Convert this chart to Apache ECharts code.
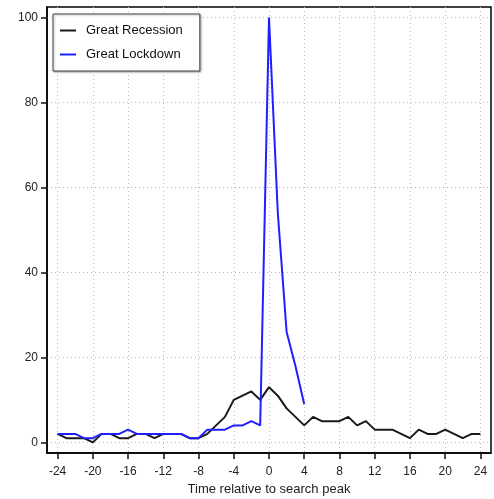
<!DOCTYPE html>
<html>
<head>
<meta charset="utf-8">
<script src="https://cdn.jsdelivr.net/npm/echarts@6/dist/echarts.min.js"></script>
<style>
  html, body { margin: 0; padding: 0; background: #fff; }
  #chart { width: 494px; height: 499px; }
</style>
</head>
<body>
<div id="chart"></div>
<script>
  // months relative to search peak
  var months = [];
  for (var m = -24; m <= 24; m++) months.push(m);

  var recession = [2, 1, 1, 1, 0, 2, 2, 1, 1, 2, 2, 1, 2, 2, 2, 1, 1, 2, 4, 6, 10, 11, 12, 10,
    13, 11, 8, 6, 4, 6, 5, 5, 5, 6, 4, 5, 3, 3, 3, 2, 1, 3, 2, 2, 3, 2, 1, 2, 2];
  var lockdown = [2, 2, 2, 1, 1, 2, 2, 2, 3, 2, 2, 2, 2, 2, 2, 1, 1, 3, 3, 3, 4, 4, 5, 4,
    100, 54, 26, 18, 9];

  var xTicks = [-24, -20, -16, -12, -8, -4, 0, 4, 8, 12, 16, 20, 24];
  var yTicks = [0, 20, 40, 60, 80, 100];

  function pairs(ys) {
    return ys.map(function (v, i) { return [months[i], v]; });
  }

  var chart = echarts.init(document.getElementById('chart'));
  var font = 'Liberation Sans, Arial, sans-serif';

  chart.setOption({
    animation: false,
    grid: {
      left: 47, right: 3, top: 7, bottom: 46,
      containLabel: false,
      outerBoundsMode: 'none',
      show: true, borderColor: '#000', borderWidth: 1.5,
      backgroundColor: '#fff'
    },
    legend: {
      left: 53, top: 14,
      orient: 'vertical',
      padding: [10, 17, 10, 7],
      itemGap: 11,
      itemWidth: 16,
      itemHeight: 2,
      icon: 'rect',
      borderColor: '#444',
      borderWidth: 1,
      backgroundColor: '#fff',
      shadowColor: 'rgba(0,0,0,0.3)',
      shadowBlur: 2,
      shadowOffsetX: 1,
      shadowOffsetY: 1,
      textStyle: { fontFamily: font, fontSize: 13, color: '#111', padding: [0, 0, 0, 5] },
      data: ['Great Recession', 'Great Lockdown']
    },
    xAxis: {
      type: 'value',
      min: -25.2, max: 25.2,
      name: 'Time relative to search peak',
      nameLocation: 'middle',
      nameGap: 29,
      nameTextStyle: { fontFamily: font, fontSize: 13, color: '#222' },
      axisLine: { show: true, onZero: false, lineStyle: { color: '#000', width: 1.5 } },
      axisTick: { show: true, length: 6, inside: false, lineStyle: { color: '#111', width: 1.5 }, customValues: xTicks },
      axisLabel: { fontFamily: font, fontSize: 12, color: '#222', margin: 13, customValues: xTicks },
      splitLine: { show: true, lineStyle: { color: '#bbb', type: [1, 3], width: 1 } }
    },
    yAxis: {
      type: 'value',
      min: -2.5, max: 102.5,
      axisLine: { show: true, onZero: false, lineStyle: { color: '#000', width: 1.5 } },
      axisTick: { show: true, length: 6, inside: false, lineStyle: { color: '#111', width: 1.5 }, customValues: yTicks },
      axisLabel: { fontFamily: font, fontSize: 12, color: '#222', margin: 9, customValues: yTicks },
      splitLine: { show: true, lineStyle: { color: '#bbb', type: [1, 3], width: 1 } }
    },
    series: [
      {
        name: 'Great Recession',
        type: 'line',
        data: pairs(recession),
        showSymbol: false,
        symbol: 'none',
        itemStyle: { color: '#1a1a1a' },
        lineStyle: { color: '#1a1a1a', width: 2 }
      },
      {
        name: 'Great Lockdown',
        type: 'line',
        data: pairs(lockdown),
        showSymbol: false,
        symbol: 'none',
        itemStyle: { color: '#1f1fff' },
        lineStyle: { color: '#1f1fff', width: 2 }
      }
    ]
  });
</script>
</body>
</html>
